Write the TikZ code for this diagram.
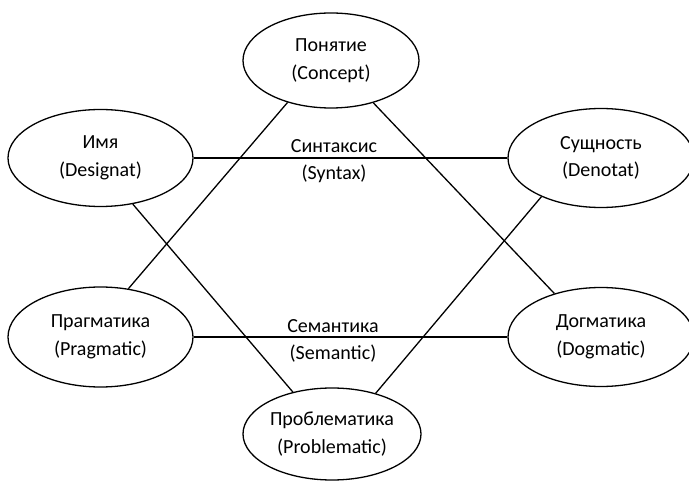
\documentclass[tikz,border=0pt]{standalone}
\usepackage{fontspec}
\setmainfont{Carlito}
\usetikzlibrary{shapes.geometric}
\begin{document}
\begin{tikzpicture}[x=1pt,y=-1pt,
  every node/.style={font=\fontsize{20}{27.5}\selectfont, align=center},
  ell/.style={draw, ellipse, line width=1.3pt, inner sep=0pt},
  conn/.style={line width=1.3pt},
  lbl/.style={inner sep=0pt}]
\useasboundingbox (0,0) rectangle (689,481);
\clip (0,0) rectangle (689,481);
\node[ell, minimum width=176pt, minimum height=95pt] (concept) at (331,60.5) {Понятие\\(Concept)};
\node[ell, minimum width=185pt, minimum height=97pt] (imya) at (100.5,158) {Имя\\(Designat)};
\node[ell, minimum width=186pt, minimum height=99pt] (sush) at (601,158) {Сущность\\(Denotat)};
\node[ell, minimum width=185pt, minimum height=100pt] (prag) at (100.5,337) {Прагматика\\(Pragmatic)};
\node[ell, minimum width=186pt, minimum height=99pt] (dogm) at (601,337) {Догматика\\(Dogmatic)};
\node[ell, minimum width=178pt, minimum height=92pt] (probl) at (332,434) {Проблематика\\(Problematic)};
\node[lbl] (syntax) at (334,161) {Синтаксис\\(Syntax)};
\node[lbl] (semantic) at (333,341) {Семантика\\(Semantic)};
\draw[conn] (imya.east) -- (sush.west);
\draw[conn] (prag.east) -- (dogm.west);
\draw[conn] (concept.224) -- (prag.60);
\draw[conn] (concept.315) -- (dogm.137);
\draw[conn] (imya.305) -- (probl.133);
\draw[conn] (sush.213) -- (probl.43);
\end{tikzpicture}
\end{document}
